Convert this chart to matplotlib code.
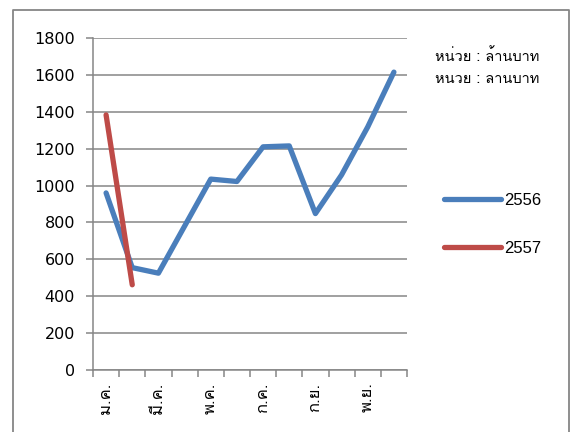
import matplotlib
matplotlib.use('Agg')
import matplotlib.pyplot as plt
from matplotlib import font_manager
from matplotlib.ft2font import FT2Font
from matplotlib.lines import Line2D
from matplotlib.patches import Rectangle
import numpy as np

# data
months = ['ม.ค.', 'ก.พ.', 'มี.ค.', 'เม.ย.', 'พ.ค.', 'มิ.ย.',
          'ก.ค.', 'ส.ค.', 'ก.ย.', 'ต.ค.', 'พ.ย.', 'ธ.ค.']
values_2556 = [960, 555, 525, 780, 1035, 1022, 1210, 1215, 848, 1058, 1318, 1615]
values_2557 = [1383, 462]
series_names = ['2556', '2557']
unit_text = 'หน่วย : ล้านบาท'
yticks = [0, 200, 400, 600, 800, 1000, 1200, 1400, 1600, 1800]


def find_thai_font():
    for f in font_manager.fontManager.ttflist:
        try:
            cmap = FT2Font(f.fname).get_charmap()
        except Exception:
            continue
        if 0x0E2B in cmap and 0x0E48 in cmap:
            return f.name
    return 'DejaVu Sans'


thai_font = find_thai_font()
grey = '#868686'

fig = plt.figure(figsize=(5.7, 4.32), dpi=100)
W, H = 570, 432
ax = fig.add_axes([93 / W, 1 - 370 / H, 314 / W, 332 / H])

x = np.arange(len(months)) + 0.5
ax.plot(x, values_2556, color='#4A7EBB', lw=3.8, solid_capstyle='round',
        solid_joinstyle='round', label=series_names[0], zorder=3)
ax.plot(x[:len(values_2557)], values_2557, color='#BE4B48', lw=3.8,
        solid_capstyle='round', solid_joinstyle='round', label=series_names[1], zorder=4)

ax.set_xlim(0, len(months))
ax.set_ylim(0, 1800)
ax.set_yticks(yticks)
ax.set_yticklabels([str(v) for v in yticks], fontsize=11.5)
ax.yaxis.grid(True, color=grey, lw=1.1)
ax.set_axisbelow(True)
for s in ['top', 'right']:
    ax.spines[s].set_visible(False)
for s in ['left', 'bottom']:
    ax.spines[s].set_color(grey)
    ax.spines[s].set_linewidth(1.1)
ax.tick_params(axis='y', length=5, color=grey, width=1.1, pad=8)

# category boundaries as major ticks, labels on every other category
ax.set_xticks(np.arange(len(months) + 1))
ax.set_xticklabels([])
ax.set_xticks(x[::2], minor=True)
ax.set_xticklabels(months[::2], minor=True, rotation=90, fontsize=12,
                   family=[thai_font, 'DejaVu Sans'])
ax.tick_params(axis='x', which='major', length=5, color=grey, width=1.1)
ax.tick_params(axis='x', which='minor', length=0, pad=9)

ax.legend(loc='center left', bbox_to_anchor=(444 / W, 1 - 224.5 / H),
          bbox_transform=fig.transFigure, frameon=False, borderpad=0,
          borderaxespad=0, handlelength=3.4, handletextpad=0.2,
          labelspacing=1.95, prop={'family': 'Liberation Sans', 'size': 12})

# unit note, drawn twice like the source (second copy partly clipped)
fig.text(487 / W, 1 - 56 / H, unit_text, ha='center', va='center',
         fontsize=10.5, family=[thai_font, 'DejaVu Sans'])
t2 = fig.text(487 / W, 1 - 78 / H, unit_text, ha='center', va='center',
              fontsize=10.5, family=[thai_font, 'DejaVu Sans'])
clip = Rectangle((0, 1 - 84 / H), 1, 12 / H, transform=fig.transFigure,
                 visible=False)
fig.add_artist(clip)
t2.set_clip_path(clip)

# outer chart border (left, top, right)
bx = [13 / W, 13 / W, 569 / W, 569 / W]
by = [0, 1 - 10 / H, 1 - 10 / H, 0]
fig.add_artist(Line2D(bx, by, color=grey, lw=1.3, transform=fig.transFigure))

fig.savefig('out.png', dpi=100)
